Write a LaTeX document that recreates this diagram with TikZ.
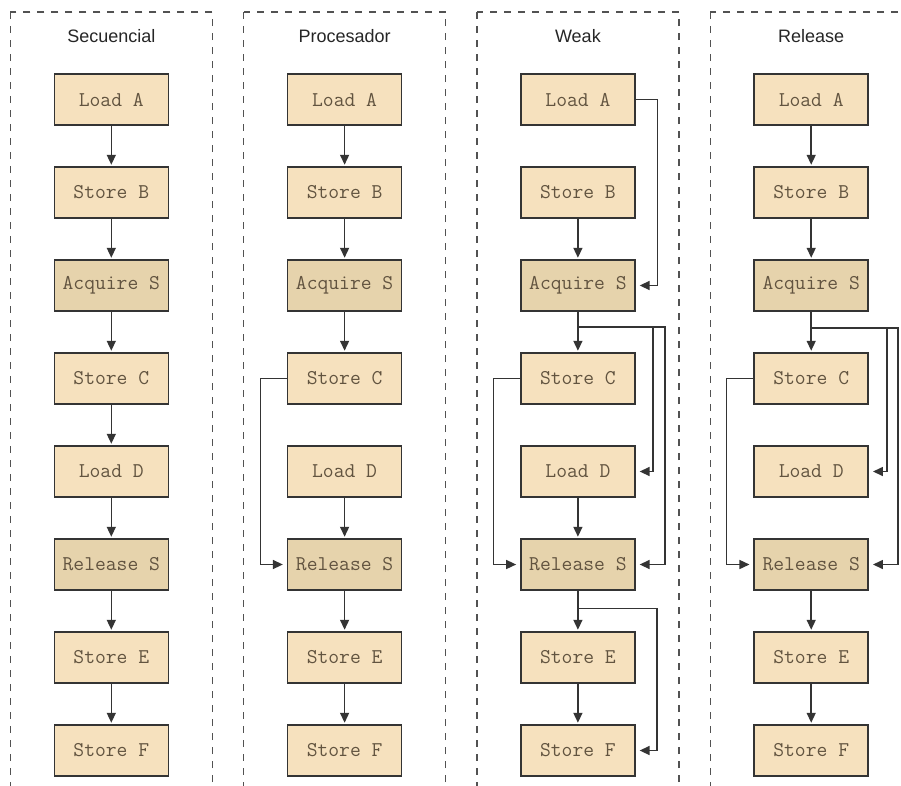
\documentclass[tikz,border=0pt]{standalone}
\usepackage{fontspec}
\setmainfont{Liberation Sans}
\usetikzlibrary{arrows.meta}

\definecolor{opfill}{RGB}{246,225,190}
\definecolor{syncfill}{RGB}{230,211,172}
\definecolor{optext}{RGB}{98,84,64}
\definecolor{edgecol}{RGB}{52,52,52}

\begin{document}
\begin{tikzpicture}[x=1pt,y=-1pt,
  op/.style={draw=edgecol, line width=1.5pt, fill=opfill,
    minimum width=114pt, minimum height=51pt, inner sep=0pt,
    font=\ttfamily\fontsize{21}{22}\selectfont, text=optext},
  sync/.style={op, fill=syncfill},
  lane/.style={draw=edgecol!85, line width=1.4pt, dash pattern=on 7pt off 7pt},
  lanetitle/.style={font=\fontsize{18}{19}\selectfont, text=black!85},
  flow/.style={draw=edgecol, line width=1.5pt,
    -{Triangle[length=10pt,width=9pt]}, shorten >=1.5pt},
  side/.style={flow, shorten >=4pt}]

\useasboundingbox (0,0) rectangle (901,785);
\clip (0,0) rectangle (901,785);
\fill[white] (0,0) rectangle (901,785);

% one lane per memory model, each with the same eight operations
\foreach \c/\x/\ttl in {s/111.3/Secuencial, p/344.6/Procesador, w/577.9/Weak, r/811.2/Release}{
  \draw[lane] (\x-101,12) rectangle (\x+101,800);
  \node[lanetitle] (\c-t) at (\x,36) {\ttl};
  \foreach \k/\txt/\sty [count=\i from 0] in
    {la/Load A/op, sb/Store B/op, aq/Acquire S/sync, sc/Store C/op,
     ld/Load D/op, rl/Release S/sync, se/Store E/op, sf/Store F/op}{
    \node[\sty] (\c-\k) at (\x,99.5+93*\i) {\txt};
  }
}

% Secuencial: total order
\draw[flow] (s-la) -- (s-sb);
\draw[flow] (s-sb) -- (s-aq);
\draw[flow] (s-aq) -- (s-sc);
\draw[flow] (s-sc) -- (s-ld);
\draw[flow] (s-ld) -- (s-rl);
\draw[flow] (s-rl) -- (s-se);
\draw[flow] (s-se) -- (s-sf);

% Procesador
\draw[flow] (p-la) -- (p-sb);
\draw[flow] (p-sb) -- (p-aq);
\draw[flow] (p-aq) -- (p-sc);
\draw[side] (p-sc.west) -- ++(-26.5,0) |- (p-rl.west);
\draw[flow] (p-ld) -- (p-rl);
\draw[flow] (p-rl) -- (p-se);
\draw[flow] (p-se) -- (p-sf);

% Weak
\draw[side] (w-la.east) -- ++(22,0) |- (w-aq.east);
\draw[flow] (w-sb) -- (w-aq);
\draw[flow] (w-aq) -- (w-sc);
\draw[side] (w-aq.south) -- ++(0,15) -- ++(75,0) |- (w-ld.east);
\draw[side] (w-aq.south) -- ++(0,15) -- ++(87,0) |- (w-rl.east);
\draw[side] (w-sc.west) -- ++(-26.5,0) |- (w-rl.west);
\draw[flow] (w-ld) -- (w-rl);
\draw[flow] (w-rl) -- (w-se);
\draw[side] (w-rl.south) -- ++(0,17.5) -- ++(79,0) |- (w-sf.east);
\draw[flow] (w-se) -- (w-sf);

% Release
\draw[flow] (r-la) -- (r-sb);
\draw[flow] (r-sb) -- (r-aq);
\draw[flow] (r-aq) -- (r-sc);
\draw[side] (r-aq.south) -- ++(0,16) -- ++(76,0) |- (r-ld.east);
\draw[side] (r-aq.south) -- ++(0,16) -- ++(87,0) |- (r-rl.east);
\draw[side] (r-sc.west) -- ++(-27,0) |- (r-rl.west);
\draw[flow] (r-rl) -- (r-se);
\draw[flow] (r-se) -- (r-sf);
\end{tikzpicture}
\end{document}
